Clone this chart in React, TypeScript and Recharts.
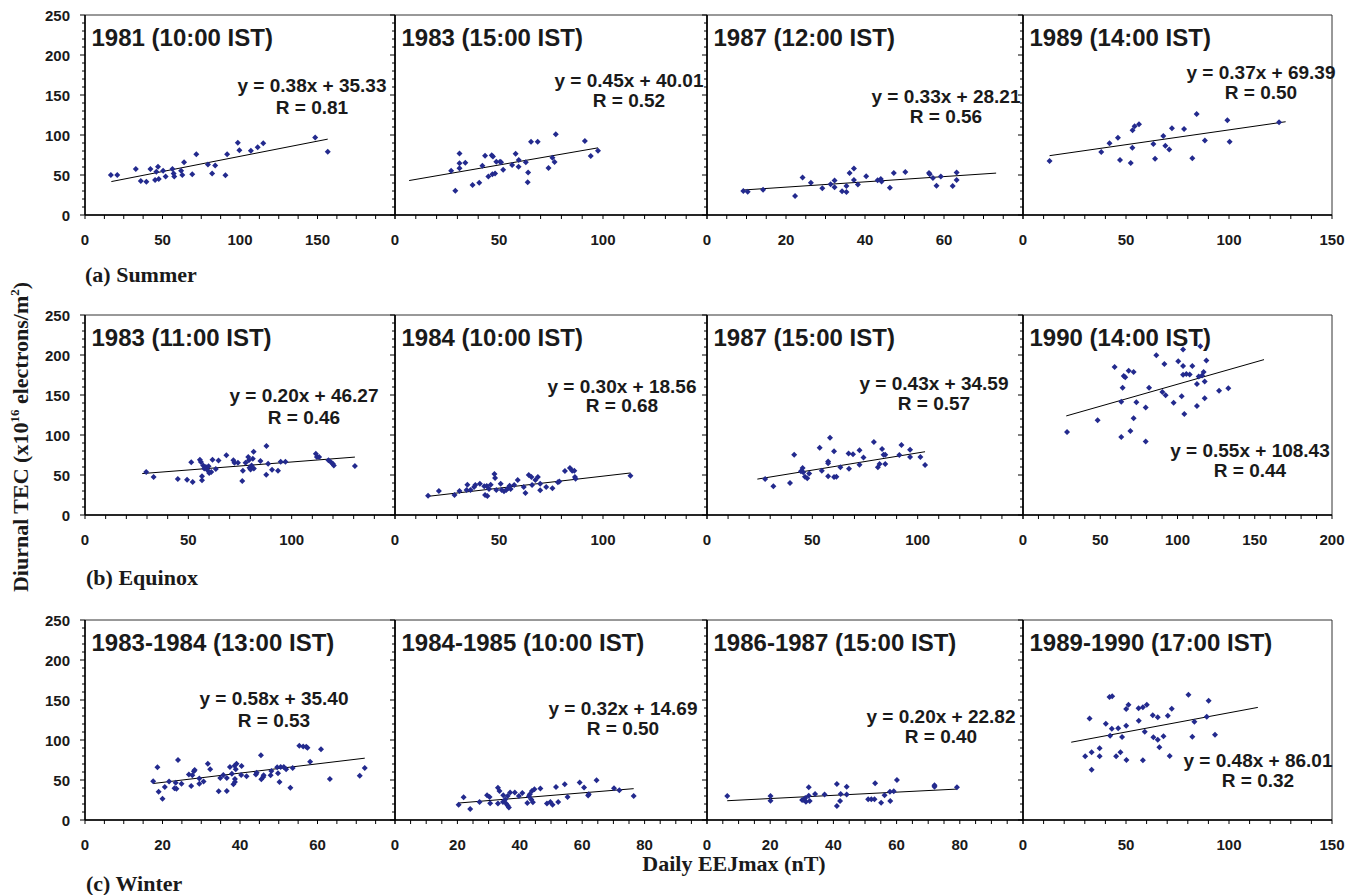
import React from "react";
import { ScatterChart, Scatter, XAxis, YAxis, ReferenceLine, ReferenceArea } from "recharts";

// --- data: [Daily EEJmax (nT), Diurnal TEC] ---
const su1981 = [[16.7,50],[20.8,50],[32.8,57.5],[36,42.5],[39.6,41.7],[42.2,57.5],[45.2,43.8],[46,54],[47.1,60.4],[47.6,45],[50.4,55.4],[52,48],[56.4,57.5],[57.2,52],[57.6,48],[62,55.4],[62.8,50],[63.9,65.8],[69.2,51],[71.8,76],[79.3,63],[82,52],[84,62],[90.6,49.6],[91.7,75.8],[98.6,90.4],[99.6,80.8],[107,80.4],[111.4,84.6],[115,89.6],[148.5,97],[156.6,79]];
const su1983 = [[27,55.4],[29,30.4],[31,77],[31,64.6],[31,58.3],[33.8,65.4],[37.3,37.5],[40.5,40.4],[42,61.7],[43.3,74],[44.9,48],[46.5,74.6],[47.1,73],[46.8,51],[48.1,52],[48.7,66.7],[50.5,66.7],[51,65.8],[52,56.7],[56.3,62.5],[58,76.7],[59.5,68.8],[59.4,60.4],[62.9,65.8],[64,53],[63.8,40.8],[65.4,91.7],[68.6,91.7],[73.8,58.8],[75.7,71.7],[76.7,66.3],[77.3,100.8],[91.3,92.5],[94.1,73.8],[97.6,80.4]];
const su1987 = [[9.2,30],[10.3,29.2],[14.2,31.7],[22.3,23.8],[24.2,47],[26.3,40.4],[29.2,33.3],[31.3,38.3],[32.3,43],[32.3,34.6],[34.2,29.6],[35.3,36.3],[35.3,28.8],[36.1,52.5],[37.2,58],[37.2,43.8],[38.2,38],[40.3,48.3],[43.2,43.3],[44,45],[44.2,42],[46.3,34.2],[47.3,52.5],[50.2,53.8],[56.2,52.5],[56.4,50.8],[57.2,46.3],[58.1,36.7],[59.2,48],[62.2,36.3],[63.2,53],[63.2,43.8]];
const su1989 = [[12.9,67.5],[38,78.8],[42,89.6],[46.1,96.7],[47.1,68.8],[52.3,65],[53.2,105.8],[53.1,84],[54.2,111],[56.3,113.3],[63.3,88.8],[64.1,70.4],[68.1,98.8],[69.1,86.7],[71,82],[72.3,108.3],[78.2,107.5],[82.2,70.8],[84.3,126.3],[88.3,93],[99.2,118.3],[100.3,91.7],[124.3,115.8]];
const eq1983 = [[29.6,53.8],[33.2,47.5],[44.9,45],[49.4,44.2],[51.4,65.8],[52.1,41.3],[55.6,69.2],[56.1,66.3],[56.6,48.3],[56.6,43.3],[57.2,62],[57.7,58],[58.5,60],[59.3,55.8],[59.8,60.8],[60.1,52.5],[61.1,53.8],[61.7,69.2],[63.3,57.5],[64.6,68],[68.4,74.6],[71.8,68.3],[72.3,65.4],[74,65.4],[76.1,42.5],[76.4,55.4],[77.7,65.4],[79,72.5],[79.3,68.3],[79.6,59.2],[80.1,57],[80.6,62],[81.2,70.4],[81.6,79.2],[81.7,58],[84.9,67.5],[87.7,50.4],[87.8,86.3],[88.6,64.2],[90.5,56.7],[93.4,55.4],[94.7,66.7],[97,66.7],[111.7,76.7],[112.2,72.5],[113.3,72.5],[117.8,68.3],[118.9,66.3],[119.9,64.2],[120.4,62],[130.6,61.3]];
const eq1984 = [[15.9,24.2],[21.1,30],[28.6,25],[31,30],[34.4,31.3],[34.8,37.9],[36.3,31.3],[38,35],[38.6,37.5],[40.8,39.2],[42.9,35.8],[43.3,25],[44.4,23.8],[44.1,36.3],[45.2,32.5],[46,37.9],[47.8,51.3],[48.1,46.3],[48.7,31.3],[50.8,39.2],[51.3,31.3],[52.4,29.6],[53.5,31.3],[54.3,33.3],[55.1,36.7],[55.6,32.5],[57.3,37.5],[59,43.8],[61.9,35],[62.7,27.5],[64.3,50],[65.6,47.5],[65.9,37.5],[67.5,43.8],[68.7,47.5],[69.8,39.2],[69.8,30.8],[72.7,35],[75.7,33.3],[78.3,40.8],[79,42],[81.7,55],[84.1,58.8],[85.2,55.4],[86.2,55.4],[86.5,47.5],[86.8,45.4],[113.2,49.2]];
const eq1987 = [[27.6,45],[31.5,35.8],[39.4,40],[41.4,75.4],[44.6,54.6],[45.4,58.8],[45.7,53.3],[46.5,47.9],[47.6,45.8],[48.5,52],[53.5,84],[54.5,55.4],[57.5,67],[57.5,64.6],[57.5,48.3],[58.4,96.7],[60.3,79.6],[60.3,47.5],[61.4,47.9],[63.3,59.6],[67.2,77],[67.4,57.9],[69.3,75.8],[72.4,80.8],[72.4,62.9],[74.3,72],[79.2,91.3],[81.1,59.6],[81.9,63.8],[83.1,82.5],[83.8,75.4],[84.6,63.8],[84.6,75.4],[91.3,75],[92.3,87.5],[96.4,81.7],[96.4,72.5],[101.3,72.5],[103.5,62.5]];
const eq1990 = [[28.5,103.8],[48.3,118.3],[59.3,185],[63.6,97.4],[63.6,141.7],[64.5,159],[65.2,173.6],[66.2,172.3],[68.4,180.4],[69.5,105],[71.6,178.7],[71.6,120.9],[73.4,140.9],[79.4,134.5],[79.4,91.9],[81.6,159],[86.3,199.6],[90.2,153.6],[91.5,188.9],[92.3,149.8],[97.5,140.4],[100.5,192.3],[102.7,148.5],[103.6,206.8],[103.6,186.4],[103.6,175.3],[104.4,126.4],[105.7,176.2],[107.9,175.7],[109.6,186.4],[112.6,163.8],[112.6,136.2],[113.7,173],[114.8,211],[115.9,174.5],[116.9,178.7],[117.6,166.8],[117.6,146],[118.7,193.2],[126.9,155.3],[132.9,158.3]];
const wi8384 = [[17.6,48.3],[18.7,65.8],[19,35.4],[20,26.7],[20.6,41.3],[21.7,48],[23.1,39.6],[23.4,46.7],[23.6,39.2],[24,75],[24.9,45.4],[26.8,57],[27.4,42.5],[27.7,55.8],[28.1,60.8],[28.3,62.5],[29.5,52],[29.5,45.4],[30.6,48],[31.7,70.4],[32.3,63.3],[34.5,35.8],[34.9,52.5],[35.7,56.3],[36.6,36.3],[36.6,52.5],[37.4,66.3],[37.9,57.9],[38.3,44.6],[38.6,67.9],[38.7,47.5],[38.7,51.3],[38.9,63.3],[39.1,70.4],[40.3,56.3],[40.4,67.5],[41.7,54.6],[44.1,57],[44.3,59.2],[45.4,80.8],[45.5,50.8],[46,53.8],[46.1,55.8],[47.9,55.8],[48.1,61.3],[49.6,65.8],[49.8,58.3],[50.2,47.5],[50.5,66.3],[51.3,66.3],[51.9,63.3],[53,40.4],[53.6,65],[55.3,92.9],[56.3,92],[57.1,91.7],[57.4,90.4],[58.1,72.9],[60.9,88.3],[63.2,51.3],[70.9,55.4],[72.2,65]];
const wi8485 = [[20.4,19.2],[22,28.5],[24.1,13.8],[27.1,22.6],[29.5,31],[30.3,28.9],[30.5,20.9],[33,40.2],[33,20.5],[33.5,36.4],[34.7,31],[34.6,22.6],[35.3,25.5],[35.6,20.5],[36.1,30.1],[36.1,18],[36.5,15.5],[36.9,34.3],[38.4,34.3],[39.7,30.1],[40.8,33.9],[42.4,21.3],[42.9,29.7],[43.2,32.2],[43.7,25.5],[43.9,36.4],[44.2,22.2],[44.7,38.5],[46.6,39.3],[48.7,20.5],[49.8,22.6],[50.5,19.2],[51.6,41.4],[52.3,22.6],[54.4,44.8],[55.3,28.9],[59.2,46.9],[60.6,40.6],[61.9,30.5],[62.1,32.2],[64.6,49.8],[70.2,39.7],[71.9,37.2],[76.5,30.1]];
const wi8687 = [[6.4,30],[20.1,30],[20.1,24.2],[30.1,25],[30.7,25],[31.1,27.5],[31.3,22.9],[32.2,40.8],[32.2,30.4],[32.5,23.8],[34.2,32.5],[37.2,32],[41.1,45],[41.1,17.5],[42.1,23.8],[42.3,32.5],[44.2,41.7],[44.2,32],[51,25.8],[52,25.8],[53,25.8],[53.2,45.8],[55.1,21.7],[56.2,30.8],[57.9,35.4],[58,23.8],[59.1,35.8],[60.1,50],[72,43.3],[72,41.7],[79.1,40.8]];
const wi8990 = [[30.2,79.6],[32.3,127],[33.3,84.6],[33.3,62.9],[37.2,89.6],[37.2,79.6],[40.2,120.4],[42,153.8],[42.3,105.4],[43.1,114.2],[43.3,154.6],[45.2,79.6],[46.2,114.6],[47.3,84.6],[48.1,103.8],[50.1,117.9],[50.1,138.8],[50.2,75],[51.2,144.2],[56.1,139.6],[56.2,124.2],[58.2,140.8],[58.2,74.6],[59.1,110.4],[60.1,144.2],[63,130.8],[63.3,103.3],[65.4,128.3],[65.4,100.4],[66.2,90.8],[68.2,104.6],[70.3,130.4],[71.2,80],[72.2,139.2],[80.3,156.7],[82.2,104.2],[83.2,122.9],[89.2,129.2],[90.1,149.2],[93.2,106.7]];

const panelData = [su1981, su1983, su1987, su1989, eq1983, eq1984, eq1987, eq1990, wi8384, wi8485, wi8687, wi8990];
const panelTitles = [
  "1981 (10:00 IST)", "1983 (15:00 IST)", "1987 (12:00 IST)", "1989 (14:00 IST)",
  "1983 (11:00 IST)", "1984 (10:00 IST)", "1987 (15:00 IST)", "1990 (14:00 IST)",
  "1983-1984 (13:00 IST)", "1984-1985 (10:00 IST)", "1986-1987 (15:00 IST)", "1989-1990 (17:00 IST)",
];
const slopes = [0.38, 0.45, 0.33, 0.37, 0.2, 0.3, 0.43, 0.55, 0.58, 0.32, 0.2, 0.48];
const intercepts = [35.33, 40.01, 28.21, 69.39, 46.27, 18.56, 34.59, 108.43, 35.4, 14.69, 22.82, 86.01];
const rValues = [0.81, 0.52, 0.56, 0.5, 0.46, 0.68, 0.57, 0.44, 0.53, 0.5, 0.4, 0.32];
const trendFrom = [17, 6.8, 9.2, 12.9, 27.7, 15.6, 23.9, 28, 17.6, 20.4, 6.4, 23.4];
const trendTo = [156.6, 97.6, 73.2, 127.5, 130.6, 113.2, 103.5, 156, 72.2, 76.5, 79.1, 114];
const xMaxes = [200, 150, 80, 150, 150, 150, 150, 200, 80, 100, 100, 150];
const xMajor = [50, 50, 20, 50, 50, 50, 50, 50, 20, 20, 20, 50];
const xMinor = [12.5, 10, 5, 10, 10, 10, 10, 10, 5, 5, 5, 10];
const yMax = 250;
const yMajor = 50;
const yMinor = 10;
const seasonLabels = ["(a) Summer", "(b) Equinox", "(c) Winter"];
const xTitle = "Daily EEJmax (nT)";

// --- layout ---
const COL_LEFT = [85, 395, 707, 1023];
const COL_W = [310, 312, 316, 309];
const ROW_TOP = [15, 315, 620];
const PLOT_H = 200;
// [centre x, equation baseline, R baseline] relative to plot corner
const EQ_POS = [
  [227, 77, 99], [234, 72, 92], [239, 88, 108], [238, 64, 84],
  [219, 87, 109], [227, 78, 97], [227, 75, 95], [227, 142, 162],
  [189, 85, 107], [228, 95, 115], [234, 103, 123], [235, 147, 167],
];
const SEASON_POS = [[85, 282], [86, 585], [86, 891]];

const SANS = "'Liberation Sans', Arial, sans-serif";
const SERIF = "'Liberation Serif', 'Times New Roman', serif";
const MARK = "#232a8e";
const INK = "#1a1a1a";

const PAD_L = 70;
const PAD_T = 10;
const PAD_R = 24;
const PAD_B = 40;

const Diamond = (p: any) => {
  const { cx, cy } = p;
  if (cx == null || cy == null) return null;
  return <path d={`M${cx},${cy - 3}L${cx + 3},${cy}L${cx},${cy + 3}L${cx - 3},${cy}Z`} fill={MARK} />;
};

function steps(max: number, step: number) {
  const out: number[] = [];
  for (let i = 0; i * step <= max + 1e-6; i++) out.push(+(i * step).toFixed(3));
  return out;
}

function Panel({ idx }: { idx: number }) {
  const row = Math.floor(idx / 4);
  const col = idx % 4;
  const w = COL_W[col];
  const xmax = xMaxes[idx];
  const xTicks = steps(xmax, xMinor[idx]);
  const yTicks = steps(yMax, yMinor);
  const axisY = PAD_T + PLOT_H;
  const data = panelData[idx].map(([x, y]) => ({ x, y }));
  const a = slopes[idx];
  const b = intercepts[idx];
  const x0 = trendFrom[idx];
  const x1 = trendTo[idx];

  const xTick = (p: any) => {
    const v = p.payload.value;
    const isMajor = Math.abs(v / xMajor[idx] - Math.round(v / xMajor[idx])) < 1e-6;
    const showLabel = isMajor && (v < xmax - 1e-6 || col === 3);
    return (
      <g>
        <line x1={p.x} x2={p.x} y1={axisY} y2={axisY + 4} stroke="#000" strokeWidth={1} />
        {showLabel && (
          <text x={p.x} y={axisY + 30} textAnchor="middle" fontFamily={SANS} fontWeight="bold" fontSize={15} fill={INK}>
            {v}
          </text>
        )}
      </g>
    );
  };

  const yTick = (p: any) => {
    const v = p.payload.value;
    const isMajor = v % yMajor === 0;
    return (
      <g>
        <line x1={PAD_L} x2={PAD_L - (isMajor ? 5 : 3)} y1={p.y} y2={p.y} stroke="#000" strokeWidth={1} />
        {isMajor && col === 0 && (
          <text x={PAD_L - 15} y={p.y + 5.5} textAnchor="end" fontFamily={SANS} fontWeight="bold" fontSize={15} fill={INK}>
            {v}
          </text>
        )}
      </g>
    );
  };

  return (
    <div style={{ position: "absolute", left: COL_LEFT[col] - PAD_L, top: ROW_TOP[row] - PAD_T }}>
      <ScatterChart
        width={w + PAD_L + PAD_R}
        height={PLOT_H + PAD_T + PAD_B}
        margin={{ top: PAD_T, right: PAD_R, bottom: 0, left: 0 }}
      >
        <XAxis
          type="number"
          dataKey="x"
          domain={[0, xmax]}
          ticks={xTicks}
          interval={0}
          height={PAD_B}
          tick={xTick}
          tickLine={false}
          axisLine={{ stroke: "#000", strokeWidth: 1.5 }}
          allowDataOverflow
        />
        <YAxis
          type="number"
          dataKey="y"
          domain={[0, yMax]}
          ticks={yTicks}
          interval={0}
          width={PAD_L}
          tick={yTick}
          tickLine={false}
          axisLine={{ stroke: "#000", strokeWidth: 1.5 }}
          allowDataOverflow
        />
        <ReferenceArea x1={0} x2={xmax} y1={0} y2={yMax} fill="none" fillOpacity={0} stroke="#333" strokeWidth={1} ifOverflow="visible" />
        <ReferenceLine
          segment={[{ x: x0, y: a * x0 + b }, { x: x1, y: a * x1 + b }]}
          stroke="#000"
          strokeWidth={1}
          ifOverflow="visible"
        />
        <Scatter data={data} shape={Diamond} isAnimationActive={false} />
      </ScatterChart>
    </div>
  );
}

function Labels() {
  return (
    <svg width={1358} height={895} style={{ position: "absolute", left: 0, top: 0, pointerEvents: "none" }}>
      {panelTitles.map((t, i) => {
        const left = COL_LEFT[i % 4];
        const top = ROW_TOP[Math.floor(i / 4)];
        const [cx, eb, rb] = EQ_POS[i];
        return (
          <g key={i} fontFamily={SANS} fontWeight="bold" fill={INK}>
            <text x={left + 6.5} y={top + 30.5} fontSize={24}>{t}</text>
            <text x={left + cx} y={top + eb} fontSize={19} textAnchor="middle">
              {`y = ${slopes[i].toFixed(2)}x + ${intercepts[i].toFixed(2)}`}
            </text>
            <text x={left + cx} y={top + rb} fontSize={19} textAnchor="middle">
              {`R = ${rValues[i].toFixed(2)}`}
            </text>
          </g>
        );
      })}
      {seasonLabels.map((s, i) => (
        <text key={s} x={SEASON_POS[i][0]} y={SEASON_POS[i][1]} fontFamily={SERIF} fontWeight="bold" fontSize={22} fill={INK}>
          {s}
        </text>
      ))}
      <text x={734} y={871} textAnchor="middle" fontFamily={SERIF} fontWeight="bold" fontSize={22} fill={INK}>
        {xTitle}
      </text>
      <text
        transform="translate(28,437) rotate(-90)"
        textAnchor="middle"
        fontFamily={SERIF}
        fontWeight="bold"
        fontSize={22}
        fill={INK}
      >
        Diurnal TEC (x10
        <tspan fontSize={13} dy={-9}>16</tspan>
        <tspan dy={9}> electrons/m</tspan>
        <tspan fontSize={13} dy={-9}>2</tspan>
        <tspan dy={9}>)</tspan>
      </text>
    </svg>
  );
}

export default function App() {
  return (
    <div style={{ position: "absolute", left: 0, top: 0, width: 1358, height: 895, background: "#fff", overflow: "hidden" }}>
      {panelData.map((_, i) => (
        <Panel key={i} idx={i} />
      ))}
      <Labels />
    </div>
  );
}
